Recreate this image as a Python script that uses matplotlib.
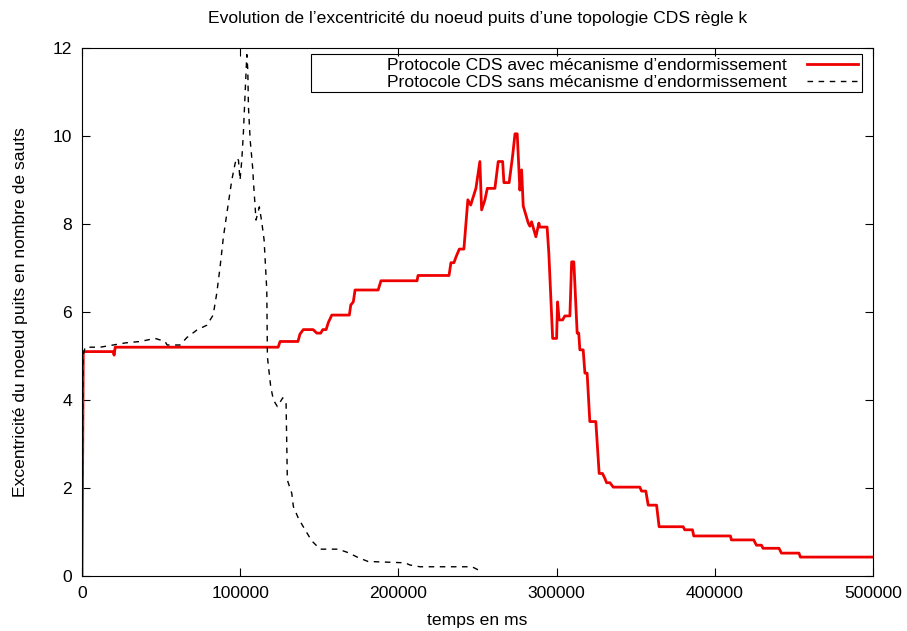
import matplotlib.pyplot as plt
from matplotlib.patches import Rectangle

plt.rcParams['font.family'] = ['Liberation Sans', 'DejaVu Sans']
plt.rcParams['font.size'] = 12.6

# temps (ms) / excentricite - avec mecanisme d'endormissement
avec_t = [0, 800, 19700, 20300, 21000, 124000, 125200, 136500, 137800, 139900,
          146100, 148400, 150900, 152200, 154300, 155700, 157900, 169000, 169900, 171500,
          172600, 187200, 189000, 211800, 212400, 232000, 233200, 235100, 236400, 238500,
          241400, 243900, 245700, 249000, 251500, 252600, 254700, 256200, 261000, 263100,
          265900, 266700, 270000, 272200, 273700, 275100, 276800, 277900, 278900, 282100,
          283100, 284200, 286900, 288800, 289400, 294000, 295100, 297500, 300000, 300600,
          301600, 303800, 305200, 308400, 309500, 310900, 313000, 314000, 314700, 316800,
          317900, 319300, 321000, 324800, 326900, 329000, 330500, 331600, 333700, 335800,
          352600, 353700, 356400, 357900, 363200, 364800, 380000, 381000, 385900, 386700,
          409900, 410500, 424600, 426300, 429500, 430500, 440600, 442100, 453200, 454100,
          500000]
avec_val = [0, 5.1, 5.1, 5.02, 5.2, 5.2, 5.33, 5.33, 5.5, 5.6,
            5.6, 5.52, 5.52, 5.6, 5.6, 5.76, 5.93, 5.93, 6.16, 6.23,
            6.5, 6.5, 6.71, 6.71, 6.83, 6.83, 7.12, 7.12, 7.25, 7.43,
            7.43, 8.55, 8.43, 8.81, 9.42, 8.32, 8.55, 8.81, 8.81, 9.42,
            9.42, 8.94, 8.94, 9.55, 10.05, 10.05, 8.77, 9.23, 8.41, 8.02,
            7.95, 8.05, 7.71, 8.02, 7.93, 7.93, 7.33, 5.4, 5.4, 6.23,
            5.82, 5.82, 5.91, 5.91, 7.14, 7.14, 5.52, 5.52, 5.14, 5.14,
            4.61, 4.61, 3.51, 3.51, 2.33, 2.33, 2.22, 2.12, 2.12, 2.02,
            2.02, 1.93, 1.93, 1.61, 1.61, 1.12, 1.12, 1.05, 1.05, 0.91,
            0.91, 0.82, 0.82, 0.70, 0.70, 0.63, 0.63, 0.52, 0.52, 0.43,
            0.43]

# sans mecanisme d'endormissement
sans_t = [0, 600, 2000, 11500, 19700, 27900, 36800, 46200, 52500, 53800,
          62000, 66300, 72600, 78900, 82900, 85200, 87300, 89400, 92500, 94700,
          96800, 97800, 98900, 99900, 101000, 102000, 103100, 104200, 104800, 105200,
          106300, 108000, 108300, 110000, 112100, 113600, 115100, 116800, 117200, 119300,
          121000, 123500, 126900, 129000, 129800, 132600, 133600, 136800, 141000, 145200,
          150500, 162000, 168300, 174500, 180800, 204200, 207300, 213600, 246500, 251500,
          253400]
sans_val = [0, 5.0, 5.2, 5.2, 5.25, 5.3, 5.33, 5.4, 5.33, 5.25,
            5.25, 5.42, 5.59, 5.7, 5.93, 6.43, 7.03, 7.71, 8.47, 9.0,
            9.38, 9.5, 9.45, 9.0, 9.45, 10.06, 10.97, 11.85, 11.5, 10.67,
            9.91, 9.23, 9.0, 8.09, 8.39, 8.05, 7.64, 6.5, 4.98, 4.3,
            4.0, 3.85, 4.05, 3.93, 2.18, 1.88, 1.58, 1.31, 1.05, 0.80,
            0.61, 0.61, 0.53, 0.42, 0.33, 0.30, 0.25, 0.21, 0.21, 0.12,
            0.1]

fig = plt.figure(figsize=(9.07, 6.31), dpi=100)
ax = fig.add_axes([82 / 907, 1 - 576 / 631, (873 - 82) / 907, (576 - 48) / 631])

ax.plot(avec_t, avec_val, color='#ee0000', lw=2.0,
        label='Protocole CDS avec mécanisme d’endormissement')
ax.plot(sans_t, sans_val, color='black', lw=1.0, linestyle=(0, (4, 4)),
        label='Protocole CDS sans mécanisme d’endormissement')

ax.set_xlim(0, 500000)
ax.set_ylim(0, 12)
ax.set_xticks(range(0, 500001, 100000))
ax.set_yticks(range(0, 13, 2))
ax.tick_params(direction='in', length=6, width=0.8, top=True, right=True, pad=7)
for s in ax.spines.values():
    s.set_linewidth(0.8)

ax.set_title('Evolution de l’excentricité du noeud puits d’une topologie CDS règle k',
             fontsize=12.6, pad=18)
ax.set_xlabel('temps en ms', labelpad=9)
ax.set_ylabel('Excentricité du noeud puits en nombre de sauts', labelpad=18)

# gnuplot-style key: text right-aligned, sample on the right, wide box
ax.legend(loc='upper right', markerfirst=False, frameon=False,
          handlelength=2.9, handletextpad=1.15,
          bbox_to_anchor=(0.9855, 0.9886), borderaxespad=0,
          borderpad=0.2, labelspacing=0.1)
ax.add_patch(Rectangle((0.2895, 0.9167), 0.9855 - 0.2895, 0.9886 - 0.9167,
                       transform=ax.transAxes, fill=False, lw=0.8,
                       edgecolor='black', zorder=1.5))

fig.savefig('out.png', dpi=100)
